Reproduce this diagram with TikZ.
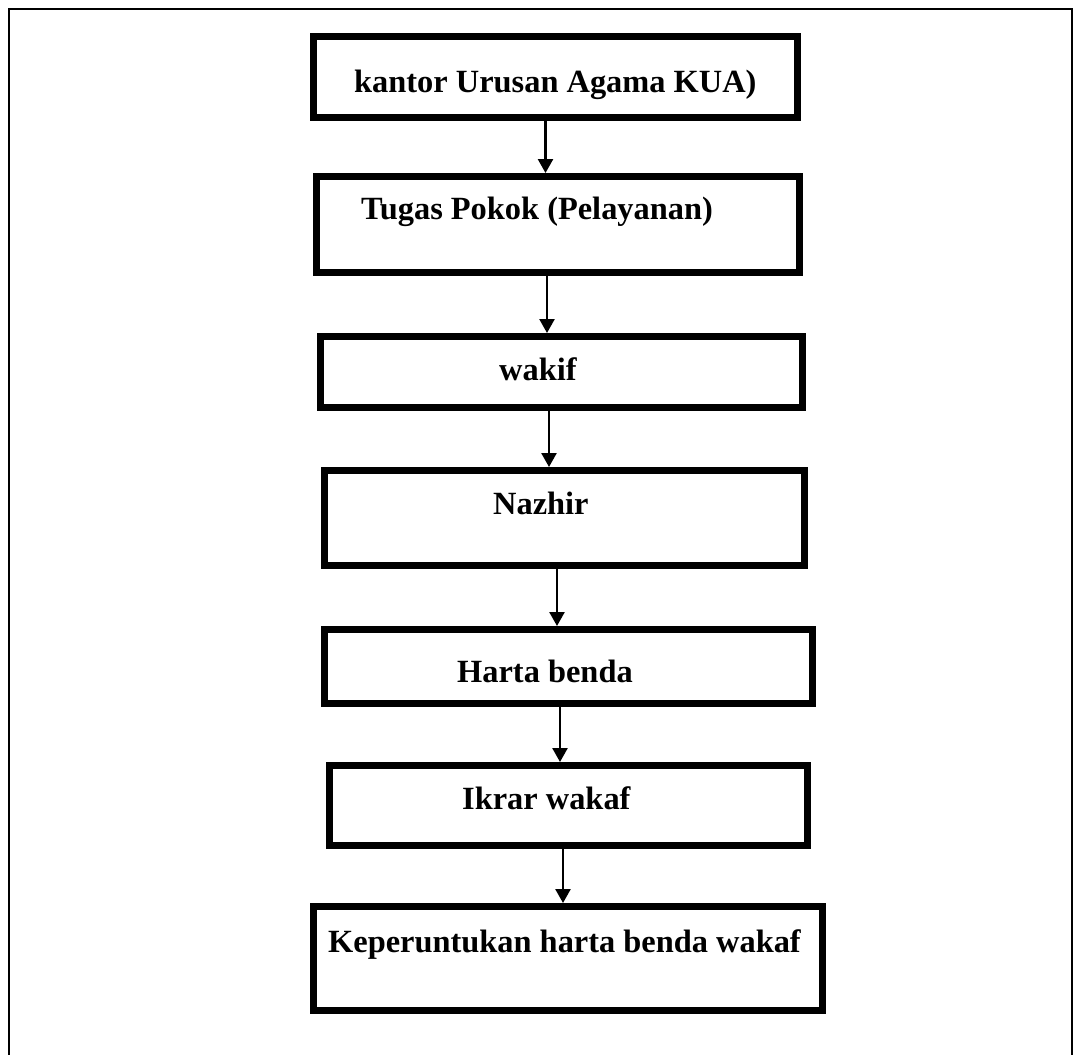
\documentclass[tikz,border=0pt]{standalone}
\usepackage{fontspec}
\setmainfont{Liberation Serif}
\usetikzlibrary{arrows.meta}
\begin{document}
\begin{tikzpicture}[x=1pt,y=-1pt,
  boxnode/.style={draw=black, line width=7pt, rectangle, inner sep=0pt, fill=white},
  txt/.style={inner sep=0pt, anchor=base west, font=\fontsize{32.4}{38}\selectfont\bfseries},
  arr/.style={line width=2.5pt, -{Triangle[width=15pt,length=14pt]}},
  frame/.style={line width=2pt, line cap=butt}]
\useasboundingbox (0,0) rectangle (1074,1055);
\draw[frame] (9,1058) -- (9,9) -- (1072,9) -- (1072,1058);
% boxes
\node[boxnode, minimum width=484pt, minimum height=81pt] (b1) at (555.5,77) {};
\node[boxnode, minimum width=483pt, minimum height=96pt] (b2) at (558,224.5) {};
\node[boxnode, minimum width=482pt, minimum height=71pt] (b3) at (561.5,372) {};
\node[boxnode, minimum width=480pt, minimum height=95pt] (b4) at (564.5,518) {};
\node[boxnode, minimum width=488pt, minimum height=74pt] (b5) at (568.5,666.5) {};
\node[boxnode, minimum width=478pt, minimum height=80pt] (b6) at (568.5,805.5) {};
\node[boxnode, minimum width=509pt, minimum height=104pt] (b7) at (568,958.5) {};
% texts
\node[txt] (t1) at (354,92) {kantor Urusan Agama KUA)};
\node[txt] (t2) at (361,219) {Tugas Pokok (Pelayanan)};
\node[txt] (t3) at (499,380) {wakif};
\node[txt] (t4) at (493,514) {Nazhir};
\node[txt] (t5) at (457,682) {Harta benda};
\node[txt] (t6) at (462,809) {Ikrar wakaf};
\node[txt] (t7) at (328,952) {Keperuntukan harta benda wakaf};
% arrow x positions
\coordinate (a1) at (545.5,0);
\coordinate (a2) at (547,0);
\coordinate (a3) at (549,0);
\coordinate (a4) at (557,0);
\coordinate (a5) at (560,0);
\coordinate (a6) at (563,0);
\draw[arr] (b1.south -| a1) -- (b2.north -| a1);
\draw[arr] (b2.south -| a2) -- (b3.north -| a2);
\draw[arr] (b3.south -| a3) -- (b4.north -| a3);
\draw[arr] (b4.south -| a4) -- (b5.north -| a4);
\draw[arr] (b5.south -| a5) -- (b6.north -| a5);
\draw[arr] (b6.south -| a6) -- (b7.north -| a6);
\end{tikzpicture}
\end{document}
